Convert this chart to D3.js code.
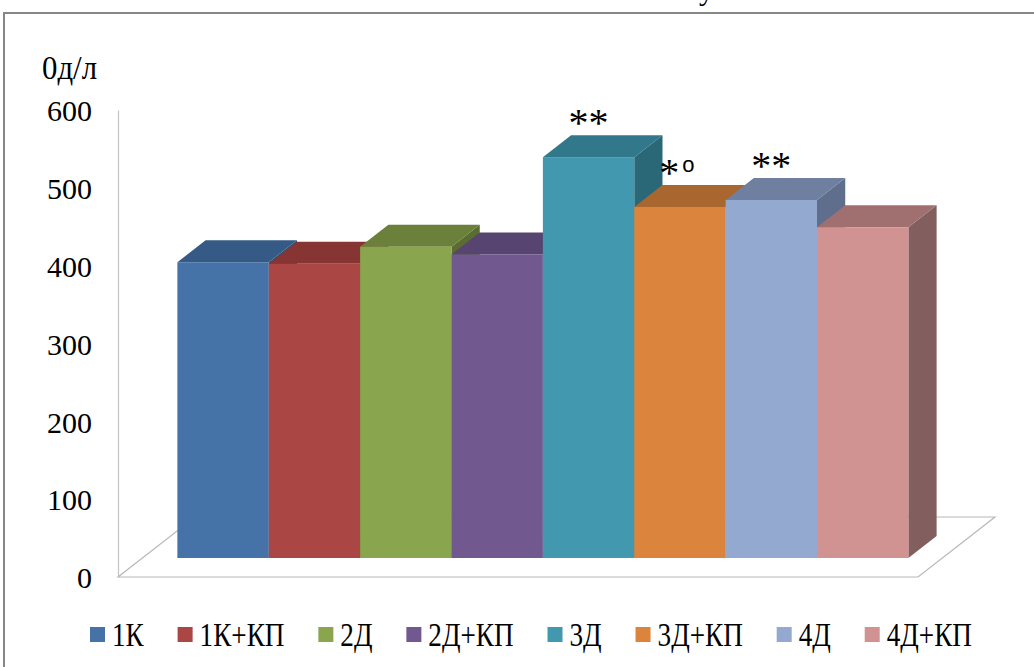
<!DOCTYPE html>
<html>
<head>
<meta charset="utf-8">
<script src="https://cdn.jsdelivr.net/npm/d3@7"></script>
<style>
  html, body { margin: 0; padding: 0; background: #fff; }
  svg { display: block; }
  text { font-family: "Liberation Serif", "Times New Roman", serif; fill: #000; }
</style>
</head>
<body>
<svg id="chart" width="1034" height="667"></svg>
<script>
// Groups and measured activity (од/л)
const categories = ["1К", "1К+КП", "2Д", "2Д+КП", "3Д", "3Д+КП", "4Д", "4Д+КП"];
const values = [380, 378, 400, 390, 515, 451, 460, 425];
const marks = ["", "", "", "", "**", "*o", "**", ""];
const yTicks = [0, 100, 200, 300, 400, 500, 600];

// Face colours per series: front, top, right side
const frontColors = ["#4572A7", "#AA4643", "#89A54E", "#71588F", "#4198AF", "#DB843D", "#93A9CF", "#D19392"];
const topColors   = ["#355A86", "#863533", "#6B803A", "#574470", "#31788A", "#A9662F", "#6E7FA0", "#A07070"];
const sideColors  = ["#2E4E74", "#6F2C2A", "#5A6C31", "#4A3A5F", "#2A6877", "#8F5628", "#5E6E8C", "#835E5E"];

const svg = d3.select("#chart");

// Outer frame
svg.append("rect")
  .attr("x", 4).attr("y", 13).attr("width", 1100).attr("height", 800)
  .attr("fill", "none").attr("stroke", "#878787").attr("stroke-width", 2);

// Fragment of the caption line above the frame
svg.append("text").attr("x", 699).attr("y", 0).attr("font-size", 30).text("у");

// Oblique 3D projection: depth runs up and to the right
const floorDepth = [77, -60];          // full floor depth vector
const frontFrac = 19 / 60, depthFrac = 22 / 60;
const fOff = [floorDepth[0] * frontFrac, floorDepth[1] * frontFrac];
const dOff = [floorDepth[0] * depthFrac, floorDepth[1] * depthFrac];

const y = d3.scaleLinear().domain([0, 600]).range([577, 110]);
const floorLeft = 118, floorRight = 918;
const x = d3.scaleBand().domain(categories).range([153, 884]).padding(0);

// Floor plane
const y0 = y(0);
svg.append("path")
  .attr("d", d3.line()([
    [floorLeft, y0], [floorRight, y0],
    [floorRight + floorDepth[0], y0 + floorDepth[1]],
    [floorLeft + floorDepth[0], y0 + floorDepth[1]]
  ]) + "Z")
  .attr("fill", "none").attr("stroke", "#b8b8b8").attr("stroke-width", 1.2);

// Value axis along the wall edge
const axis = svg.append("g")
  .attr("transform", `translate(${floorLeft},0)`)
  .call(d3.axisLeft(y).tickValues(yTicks).tickSize(0).tickSizeOuter(0).tickPadding(26));
axis.select(".domain").attr("stroke", "#c4c4c4").attr("stroke-width", 1.2);
axis.selectAll("text").attr("font-size", 30)
  .style("font-family", '"Liberation Serif", "Times New Roman", serif').attr("dy", "0.36em");

// Axis unit label (narrow, tall lettering)
svg.append("text").attr("x", 42).attr("y", 79).attr("font-size", 34)
  .attr("textLength", 55).attr("lengthAdjust", "spacingAndGlyphs").text("0д/л");

// Bars, drawn left to right so nearer faces cover farther ones
const bars = svg.append("g");
categories.forEach((c, i) => {
  const xl = x(c) + fOff[0];
  const xr = xl + x.bandwidth();
  const yt = y(values[i]) + fOff[1];
  const yb = y(0) + fOff[1];
  const g = bars.append("g");
  g.append("path")
    .attr("d", d3.line()([[xr, yt], [xr + dOff[0], yt + dOff[1]], [xr + dOff[0], yb + dOff[1]], [xr, yb]]) + "Z")
    .attr("fill", sideColors[i]);
  g.append("path")
    .attr("d", d3.line()([[xl, yt], [xr, yt], [xr + dOff[0], yt + dOff[1]], [xl + dOff[0], yt + dOff[1]]]) + "Z")
    .attr("fill", topColors[i]);
  g.append("rect")
    .attr("x", xl).attr("y", yt).attr("width", x.bandwidth()).attr("height", yb - yt)
    .attr("fill", frontColors[i]);
});

// Significance marks above bars
categories.forEach((c, i) => {
  if (!marks[i]) return;
  const cx = x(c) + fOff[0] + x.bandwidth() / 2;
  const cy = y(values[i]) + fOff[1] - 39;
  const t = svg.append("text")
    .attr("x", cx - (marks[i].includes("o") ? 3 : 0)).attr("y", cy + 18)
    .attr("text-anchor", "middle")
    .attr("font-size", 40);
  [...marks[i]].forEach(ch => {
    if (ch === "*") t.append("tspan").text("*");
    else t.append("tspan")
      .style("font-family", '"Liberation Sans", Arial, sans-serif')
      .attr("font-size", 22).attr("dy", -14).attr("dx", 3).text(ch);
  });
});

// Legend: tall, condensed labels spread across the bottom of the frame
const legendLeft = 90, legendRight = 972, swatch = 15, swatchGap = 7, squeeze = 0.8;
const legend = svg.append("g").attr("transform", "translate(0,635)");
const items = legend.selectAll("g").data(categories).join("g");
items.append("rect").attr("x", 0).attr("y", -8).attr("width", swatch).attr("height", swatch)
  .attr("fill", (d, i) => frontColors[i]);
items.append("text").attr("x", swatch + swatchGap).attr("y", 11).attr("font-size", 34).text(d => d)
  .each(function () {
    const w = this.getComputedTextLength();
    d3.select(this).attr("textLength", w * squeeze).attr("lengthAdjust", "spacingAndGlyphs");
  });
const widths = [];
items.each(function () {
  widths.push(swatch + swatchGap + (+d3.select(this).select("text").attr("textLength")));
});
const gap = (legendRight - legendLeft - d3.sum(widths)) / (categories.length - 1);
let cursor = legendLeft;
items.each(function (d, i) {
  d3.select(this).attr("transform", `translate(${cursor},0)`);
  cursor += widths[i] + gap;
});
</script>
</body>
</html>
